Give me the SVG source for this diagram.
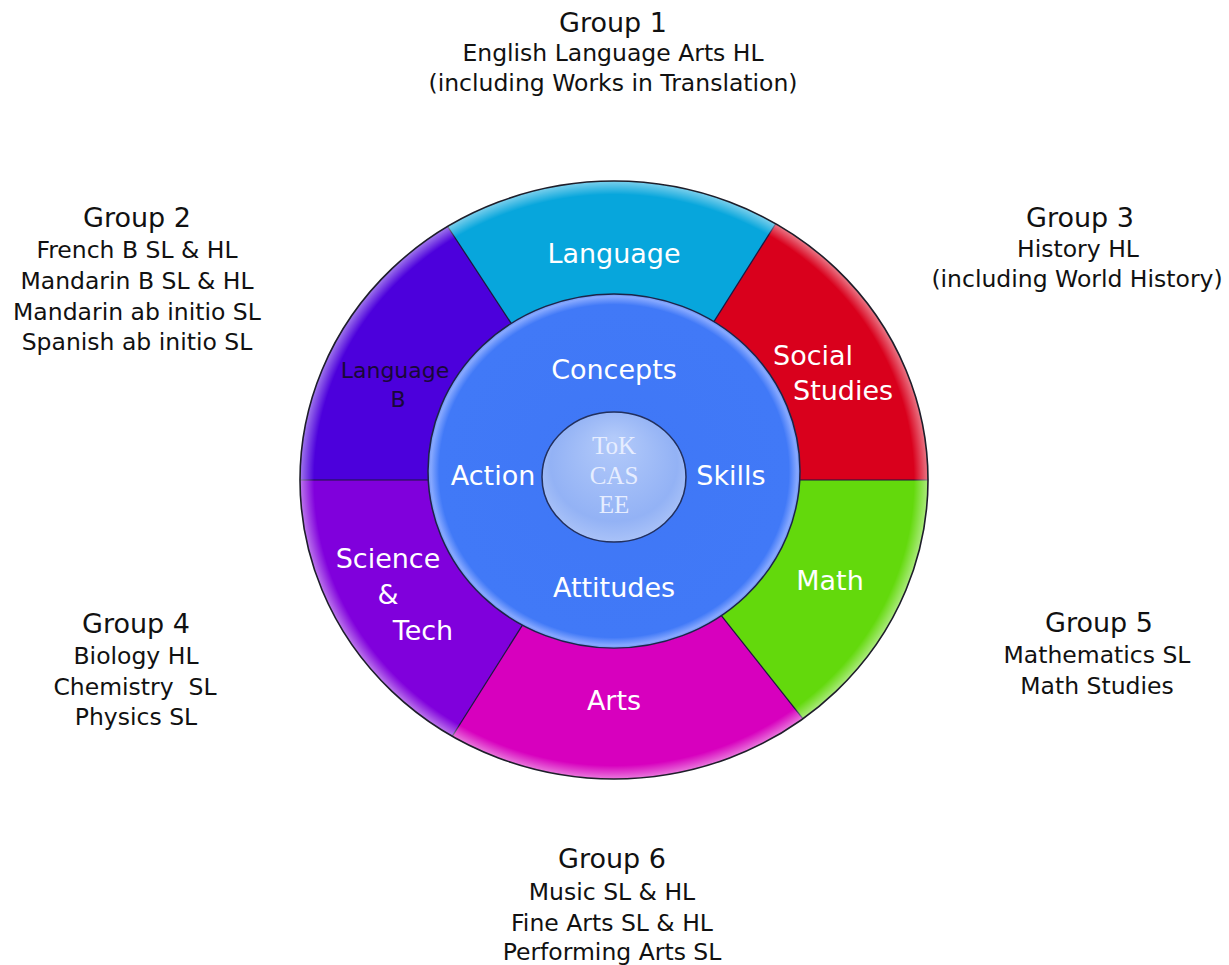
<svg xmlns="http://www.w3.org/2000/svg" width="1229" height="965" viewBox="0 0 1229 965">
<defs>
<style>
.grp{font-family:"DejaVu Sans","Liberation Sans",sans-serif;fill:#111;text-anchor:middle}
.gt{font-size:27px}
.gl{font-size:23.5px}
.wl{font-family:"DejaVu Sans","Liberation Sans",sans-serif;font-size:27px;fill:#fff}
.mid{text-anchor:middle}
.ctr{font-family:"Liberation Serif","DejaVu Serif",serif;font-size:25px;fill:#e6edff;text-anchor:middle}
.div{stroke:#1c1640;stroke-width:1.3;fill:none}
</style>
<radialGradient id="rimGlow" cx="0" cy="0" r="314" gradientUnits="userSpaceOnUse">
<stop offset="0.955" stop-color="#fff" stop-opacity="0"/>
<stop offset="0.995" stop-color="#fff" stop-opacity="0.42"/>
<stop offset="1" stop-color="#fff" stop-opacity="0.42"/>
</radialGradient>
<radialGradient id="coreFill" cx="0.5" cy="0.5" r="0.5">
<stop offset="0" stop-color="#3f77f6"/>
<stop offset="0.94" stop-color="#4179f7"/>
<stop offset="0.985" stop-color="#86a8ff"/>
<stop offset="1" stop-color="#6f95f2"/>
</radialGradient>
<radialGradient id="hubFill" cx="0.5" cy="0.45" r="0.55" fx="0.5" fy="0.2">
<stop offset="0" stop-color="#b4cbfa"/>
<stop offset="0.8" stop-color="#93b2f5"/>
<stop offset="1" stop-color="#a9c2f8"/>
</radialGradient>
</defs>

<g id="wheel" transform="translate(614,480) scale(1,0.952)">
<g id="seg-language"><path d="M0,0 L161.7,-269.2 A314,314 0 0 0 -166.4,-266.3 Z" fill="#07a6dc"/></g>
<g id="seg-social"><path d="M0,0 L314,0 A314,314 0 0 0 161.7,-269.2 Z" fill="#d9001c"/></g>
<g id="seg-langb"><path d="M0,0 L-166.4,-266.3 A314,314 0 0 0 -314,0 Z" fill="#4c00dc"/></g>
<g id="seg-science"><path d="M0,0 L-314,0 A314,314 0 0 0 -161.7,269.2 Z" fill="#8000dc"/></g>
<g id="seg-arts"><path d="M0,0 L-161.7,269.2 A314,314 0 0 0 189,250.8 Z" fill="#d700be"/></g>
<g id="seg-math"><path d="M0,0 L189,250.8 A314,314 0 0 0 314,0 Z" fill="#63d90c"/></g>
<g id="connectors">
<path class="div" d="M0,0 L314,0 M0,0 L161.7,-269.2 M0,0 L-166.4,-266.3 M0,0 L-314,0 M0,0 L-161.7,269.2 M0,0 L189,250.8"/>
</g>
<circle cx="0" cy="0" r="314" fill="url(#rimGlow)" stroke="#1e1e2a" stroke-width="1.6"/>
<g id="core"><circle cx="0" cy="-9.4" r="186" fill="url(#coreFill)" stroke="#1c2448" stroke-width="1.5"/></g>
</g>
<g id="hub"><ellipse cx="614" cy="477" rx="72" ry="65" fill="url(#hubFill)" stroke="#22305e" stroke-width="1.5"/>
<text class="ctr" x="614" y="454">ToK</text>
<text class="ctr" x="614" y="484">CAS</text>
<text class="ctr" x="614" y="513">EE</text>
</g>

<g id="wheel-labels">
<text class="wl mid" x="614" y="263">Language</text>
<text class="wl" x="773" y="365">Social</text>
<text class="wl" x="793" y="400">Studies</text>
<text x="395" y="378" font-family="DejaVu Sans, Liberation Sans, sans-serif" font-size="22" fill="#1a0838" text-anchor="middle">Language</text>
<text x="398" y="407" font-family="DejaVu Sans, Liberation Sans, sans-serif" font-size="22" fill="#1a0838" text-anchor="middle">B</text>
<text class="wl mid" x="614" y="379">Concepts</text>
<text class="wl mid" x="493" y="485">Action</text>
<text class="wl mid" x="731" y="485">Skills</text>
<text class="wl mid" x="614" y="597">Attitudes</text>
<text class="wl mid" x="388" y="568">Science</text>
<text class="wl mid" x="388" y="604">&amp;</text>
<text class="wl mid" x="423" y="640">Tech</text>
<text class="wl mid" x="614" y="710">Arts</text>
<text class="wl mid" x="830" y="590">Math</text>
</g>

<g id="group1" class="grp">
<text class="gt" x="613" y="32">Group 1</text>
<text class="gl" x="613" y="61">English Language Arts HL</text>
<text class="gl" x="613" y="91">(including Works in Translation)</text>
</g>
<g id="group2" class="grp">
<text class="gt" x="137" y="227">Group 2</text>
<text class="gl" x="137" y="258">French B SL &amp; HL</text>
<text class="gl" x="137" y="289">Mandarin B SL &amp; HL</text>
<text class="gl" x="137" y="320">Mandarin ab initio SL</text>
<text class="gl" x="137" y="350">Spanish ab initio SL</text>
</g>
<g id="group3" class="grp">
<text class="gt" x="1080" y="227">Group 3</text>
<text class="gl" x="1078" y="257">History HL</text>
<text class="gl" x="1077" y="287">(including World History)</text>
</g>
<g id="group4" class="grp">
<text class="gt" x="136" y="633">Group 4</text>
<text class="gl" x="136" y="664">Biology HL</text>
<text class="gl" x="135" y="695" xml:space="preserve">Chemistry  SL</text>
<text class="gl" x="136" y="725">Physics SL</text>
</g>
<g id="group5" class="grp">
<text class="gt" x="1099" y="632">Group 5</text>
<text class="gl" x="1097" y="663">Mathematics SL</text>
<text class="gl" x="1097" y="694">Math Studies</text>
</g>
<g id="group6" class="grp">
<text class="gt" x="612" y="868">Group 6</text>
<text class="gl" x="612" y="900">Music SL &amp; HL</text>
<text class="gl" x="612" y="931">Fine Arts SL &amp; HL</text>
<text class="gl" x="612" y="960">Performing Arts SL</text>
</g>
</svg>
